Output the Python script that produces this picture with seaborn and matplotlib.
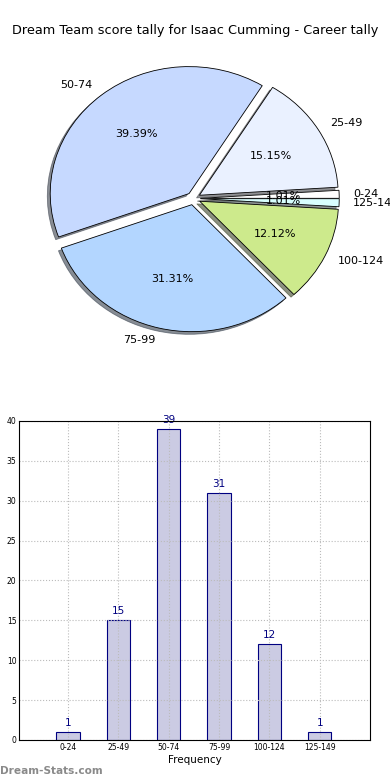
import matplotlib
matplotlib.use("Agg")
import matplotlib.pyplot as plt
import seaborn as sns
import pandas as pd

categories = ["0-24", "25-49", "50-74", "75-99", "100-124", "125-149"]
counts = [1, 15, 39, 31, 12, 1]
pie_colors = ["#ffffff", "#eaf1ff", "#c6d9ff", "#b3d6ff", "#cdea8c", "#d9ffff"]
yticks = [0, 5, 10, 15, 20, 25, 30, 35, 40]
title = "Dream Team score tally for Isaac Cumming - Career tally"

sns.set_theme(style="white")
plt.rcParams["font.family"] = ["DejaVu Sans"]
plt.rcParams["text.color"] = "black"
plt.rcParams["axes.labelcolor"] = "black"
plt.rcParams["xtick.color"] = "black"
plt.rcParams["ytick.color"] = "black"

fig = plt.figure(figsize=(3.9, 7.8), dpi=100)

# Pie chart
ax1 = fig.add_axes([0.051, 0.542, 0.89, 0.407])
wedges, texts, autotexts = ax1.pie(
    counts, labels=categories, colors=pie_colors, explode=[0.05] * len(counts),
    shadow=dict(ox=-0.015, oy=-0.015, alpha=0.6), autopct="%.2f%%",
    startangle=0, counterclock=True,
    wedgeprops=dict(edgecolor="black", linewidth=0.6),
    textprops=dict(fontsize=8, color="black"),
)
ax1.set_aspect("auto")
ax1.set_xlim(-1.25, 1.25)
ax1.set_ylim(-1.25, 1.25)
fig.text(0.5, 0.961, title, ha="center", va="center", fontsize=9.3)

# Bar chart
df = pd.DataFrame({"range": categories, "count": counts})
ax2 = fig.add_axes([0.049, 0.0513, 0.9, 0.409])
sns.barplot(data=df, x="range", y="count", order=categories, ax=ax2,
            color="#cbcbe3", edgecolor="#000080", linewidth=0.8, width=0.46,
            saturation=1)
for p, v in zip(ax2.patches, counts):
    ax2.text(p.get_x() + p.get_width() / 2, v + 0.5, str(v), ha="center",
             va="bottom", fontsize=7.5, color="#000080")
ax2.set_xlim(-0.97, 6.0)
ax2.set_ylim(0, 40)
ax2.set_yticks(yticks)
ax2.set_yticklabels([str(t) for t in yticks])
ax2.tick_params(labelsize=5.5, direction="in", length=2, pad=2)
ax2.set_xlabel("Frequency", fontsize=7.5, labelpad=2)
ax2.set_ylabel("")
ax2.grid(True, linestyle=":", color="#bbbbbb", linewidth=0.8)
ax2.set_axisbelow(False)
for s in ax2.spines.values():
    s.set_color("black")
    s.set_linewidth(0.8)
    s.set_zorder(5)

fig.text(0.0, 0.012, "Dream-Stats.com", ha="left", va="center", fontsize=7.6,
         color="#8a8a8a", fontweight="bold")

fig.savefig("out.png", dpi=100)
